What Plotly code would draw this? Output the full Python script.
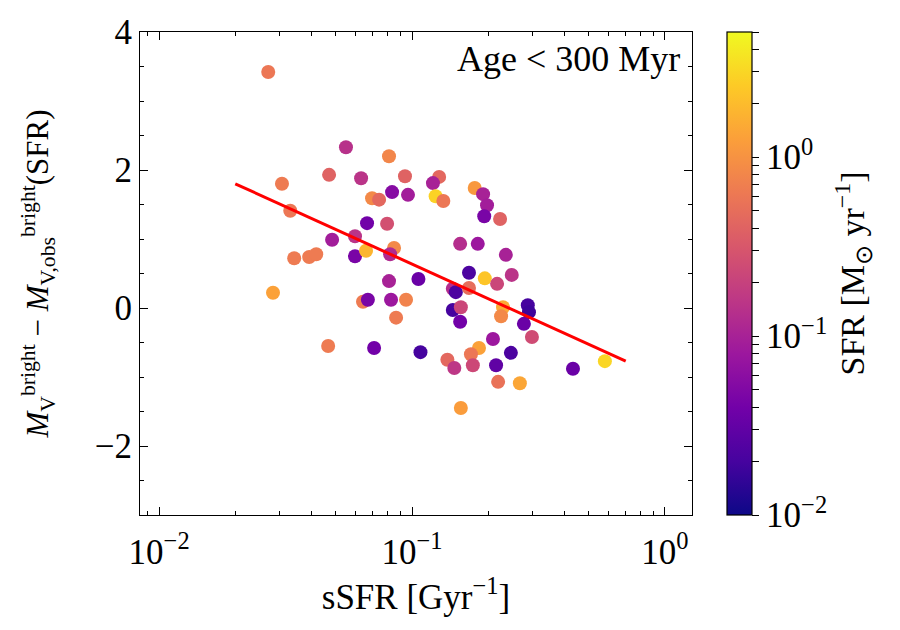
import numpy as np
import plotly.graph_objects as go

# ---- data ----
ssfr = [0.0270, 0.0548, 0.0811, 0.0306, 0.0470, 0.0629, 0.0938, 0.128, 0.121, 0.124,
        0.133, 0.177, 0.191, 0.198, 0.193, 0.223, 0.0834, 0.0964, 0.0695, 0.0741,
        0.0330, 0.0664, 0.0797, 0.0483, 0.0595, 0.0342, 0.0392, 0.0418, 0.0595, 0.0658,
        0.0849, 0.0819, 0.155, 0.182, 0.235, 0.248, 0.168, 0.194, 0.217, 0.0811,
        0.106, 0.0282, 0.0640, 0.0669, 0.0826, 0.0947, 0.0865, 0.145, 0.149, 0.168,
        0.145, 0.156, 0.155, 0.229, 0.225, 0.287, 0.290, 0.277, 0.298, 0.0466,
        0.0708, 0.108, 0.209, 0.184, 0.171, 0.138, 0.147, 0.174, 0.246, 0.215,
        0.219, 0.267, 0.156, 0.433, 0.579]
dmag = [3.42, 2.33, 2.20, 1.80, 1.93, 1.88, 1.91, 1.90, 1.81, 1.62,
        1.55, 1.74, 1.65, 1.49, 1.33, 1.29, 1.68, 1.64, 1.59, 1.57,
        1.41, 1.23, 1.22, 0.99, 1.04, 0.72, 0.74, 0.78, 0.75, 0.83,
        0.87, 0.78, 0.93, 0.93, 0.77, 0.48, 0.51, 0.43, 0.35, 0.39,
        0.42, 0.22, 0.09, 0.12, 0.12, 0.12, -0.14, 0.28, 0.23, 0.29,
        -0.03, 0.01, -0.20, 0.01, -0.12, 0.04, -0.06, -0.23, -0.42, -0.55,
        -0.58, -0.64, -0.45, -0.58, -0.67, -0.75, -0.87, -0.83, -0.65, -0.83,
        -1.07, -1.09, -1.45, -0.88, -0.77]
sfr = [0.60, 0.14, 0.80, 0.65, 0.40, 0.15, 0.40, 0.45, 0.10, 2.8,
       0.60, 1.1, 0.10, 0.09, 0.045, 0.40, 0.055, 0.09, 0.85, 0.45,
       0.60, 0.04, 0.27, 0.09, 0.15, 0.65, 0.65, 0.65, 0.045, 1.8,
       0.85, 0.12, 0.13, 0.08, 0.10, 0.15, 0.022, 2.3, 0.22, 0.10,
       0.035, 1.3, 0.65, 0.045, 0.08, 0.75, 0.65, 0.13, 0.022, 0.50,
       0.02, 0.22, 0.04, 1.5, 0.85, 0.02, 0.018, 0.035, 0.25, 0.65,
       0.04, 0.02, 0.08, 1.3, 0.60, 0.45, 0.16, 0.23, 0.022, 0.03,
       0.55, 1.4, 1.2, 0.035, 3.0]

line_ssfr = [0.02, 0.7]
line_dmag = [1.80, -0.77]

sfr_min, sfr_max = 0.01, 5.0

x_tickvals = [0.01, 0.1, 1]
x_ticktext = ["10<sup>\u22122</sup>", "10<sup>\u22121</sup>", "10<sup>0</sup>"]
y_tickvals = [-2, 0, 2, 4]
y_ticktext = ["\u22122", "0", "2", "4"]
cb_major = [0.01, 0.1, 1]
cb_major_text = ["10<sup>\u22122</sup>", "10<sup>\u22121</sup>", "10<sup>0</sup>"]

FONT = "Liberation Serif"
FS = 35

# minor tick positions
x_minor = [m * 10.0 ** e for e in (-3, -2, -1, 0) for m in range(2, 10)]
x_minor = [v for v in x_minor if 0.0084 < v < 1.28]
cb_vals = [m * 10.0 ** e for e in (-2, -1, 0) for m in range(1, 10)]
cb_vals = [v for v in cb_vals if v <= sfr_max]
cb_text = [cb_major_text[cb_major.index(v)] if v in cb_major else "" for v in cb_vals]

fig = go.Figure()
fig.add_trace(go.Scatter(
    x=ssfr, y=dmag, mode="markers",
    marker=dict(
        size=14,
        color=np.log10(sfr),
        colorscale="Plasma",
        cmin=np.log10(sfr_min), cmax=np.log10(sfr_max),
        line=dict(width=0),
        colorbar=dict(
            title=dict(text="SFR [M<sub>\u2299</sub> yr<sup>\u22121</sup>]", side="right",
                       font=dict(family=FONT, size=34, color="black")),
            tickvals=list(np.log10(cb_vals)), ticktext=cb_text,
            ticks="outside", ticklen=7, tickwidth=1, tickcolor="black",
            tickfont=dict(family=FONT, size=FS, color="black"),
            thickness=25, len=1.0, lenmode="fraction", y=0.5, yanchor="middle",
            x=1.0634, xanchor="left", xpad=0, ypad=0,
            outlinewidth=1.2, outlinecolor="black",
        ),
    ),
    showlegend=False,
))
fig.add_trace(go.Scatter(
    x=line_ssfr, y=line_dmag, mode="lines",
    line=dict(color="red", width=3), showlegend=False,
))

axis_common = dict(
    showgrid=False, zeroline=False, showline=True, linecolor="black", linewidth=1.2,
    mirror="allticks", ticks="inside", ticklen=8, tickwidth=1, tickcolor="black",
    tickfont=dict(family=FONT, size=FS, color="black"),
)
fig.update_xaxes(
    type="log", range=[np.log10(0.0084), np.log10(1.28)],
    tickmode="array", tickvals=x_tickvals, ticktext=x_ticktext,
    minor=dict(ticks="inside", ticklen=4, tickwidth=1, tickcolor="black",
               tickmode="array", tickvals=x_minor, showgrid=False),
    ticklabelstandoff=6,
    title=dict(text="sSFR [Gyr<sup>\u22121</sup>]", font=dict(family=FONT, size=FS, color="black"),
               standoff=6),
    **axis_common,
)
fig.update_yaxes(
    range=[-3, 4], tickmode="array", tickvals=y_tickvals, ticktext=y_ticktext,
    minor=dict(ticks="inside", ticklen=4, tickwidth=1, tickcolor="black",
               dtick=0.5, tick0=0, showgrid=False),
    title=dict(text="<i>M</i><sub>V</sub><sup>bright</sup> \u2212 <i>M</i><sub>V,obs</sub><sup>bright</sup>(SFR)",
               font=dict(family=FONT, size=31, color="black"), standoff=36),
    **axis_common,
)
fig.add_annotation(
    text="Age < 300 Myr", xref="paper", yref="paper", x=0.982, y=0.99,
    xanchor="right", yanchor="top", showarrow=False,
    font=dict(family=FONT, size=36, color="black"),
)
fig.update_layout(
    width=900, height=630,
    margin=dict(l=140, r=208, t=32, b=115),
    plot_bgcolor="white", paper_bgcolor="white",
)
fig.write_html("out.html")
